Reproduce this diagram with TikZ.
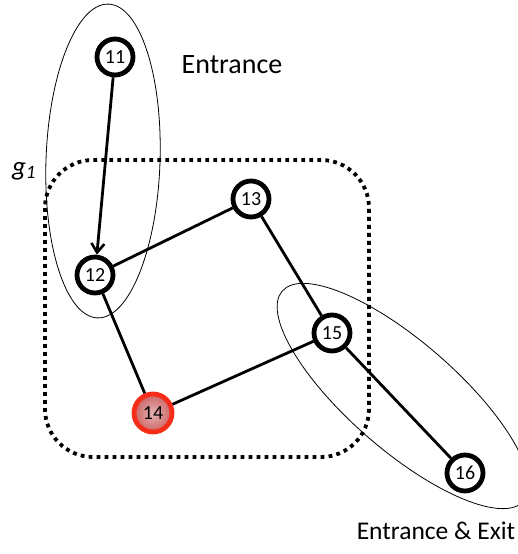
\documentclass[tikz,border=0pt]{standalone}
\usepackage{fontspec}
\setmainfont{Carlito}
\usetikzlibrary{arrows.meta}
\begin{document}
\begin{tikzpicture}[x=1pt,y=-1pt,
  vnode/.style={circle,draw=black,line width=4.8pt,fill=white,minimum size=36pt,inner sep=0pt,font=\fontsize{20}{20}\selectfont},
  rednode/.style={circle,draw={rgb,255:red,245;green,45;blue,25},line width=4.8pt,
    inner color={rgb,255:red,228;green,180;blue,180},outer color={rgb,255:red,205;green,100;blue,100},
    minimum size=38pt,inner sep=0pt,font=\fontsize{20}{20}\selectfont},
  link/.style={line width=2.8pt},
  group/.style={draw,line width=0.8pt}]
\useasboundingbox (0,0) rectangle (518,554);
% dotted group boundary
\draw[line width=3.8pt,dash pattern=on 3.8pt off 4.2pt,rounded corners=48pt] (45,160) rectangle (369,457);
% entry/exit groupings
\draw[group] (103,161) ellipse[x radius=57,y radius=157,rotate=-2];
\draw[group] (403,396) ellipse[x radius=160,y radius=54,rotate=-41];
% vertices
\node[vnode] (n11) at (115,57) {11};
\node[vnode] (n12) at (95,275) {12};
\node[vnode] (n13) at (251,199) {13};
\node[rednode] (n14) at (153,413) {14};
\node[vnode] (n15) at (332,333) {15};
\node[vnode] (n16) at (465,473) {16};
% edges
\draw[link,-{Straight Barb[length=9pt,width=13pt,line width=2.6pt]}] (n11) -- (n12);
\draw[link] (n12) -- (n13);
\draw[link] (n12) -- (n14);
\draw[link] (n13) -- (n15);
\draw[link] (n14) -- (n15);
\draw[link] (n15) -- (n16);
% labels
\node[font=\fontsize{28}{28}\selectfont] (entr) at (232,65) {Entrance};
\node[font=\fontsize{25.5}{26}\selectfont] (exit) at (436,531) {Entrance \& Exit};
\node[font=\fontsize{27}{27}\selectfont\itshape] (g1) at (24,171) {g\textsubscript{1}};
\end{tikzpicture}
\end{document}
